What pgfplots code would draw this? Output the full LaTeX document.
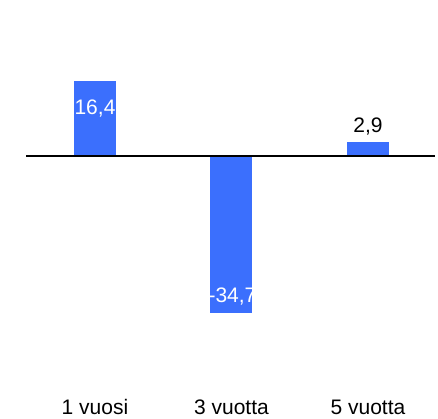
\documentclass[border=0pt]{standalone}
\usepackage{pgfplots}
\pgfplotsset{compat=1.18}
\usepackage{fontspec}
\setmainfont{Liberation Sans}
\definecolor{barblue}{HTML}{3B6FFD}

\begin{document}
\begin{tikzpicture}
\begin{axis}[
    scale only axis,
    width=438pt, height=419pt,
    xmin=-0.696, xmax=2.513,
    ymin=-57.9, ymax=34.18,
    axis line style={draw=none},
    tick style={draw=none},
    ytick=\empty,
    xtick={0,1,2},
    xticklabels={1 vuosi,3 vuotta,5 vuotta},
    xticklabel style={anchor=base, yshift=4.5pt, font=\fontsize{21}{25}\selectfont},
    clip=false,
]
% 1 vuosi
\addplot[ybar, bar shift=0pt, bar width=42pt, fill=barblue, draw=none,
    nodes near coords={16,4},
    every node near coord/.append style={anchor=base, yshift=-33.5pt, inner sep=0pt,
        text=white, font=\fontsize{21}{25}\selectfont}]
    coordinates {(0,16.4)};
% 3 vuotta
\addplot[ybar, bar shift=0pt, bar width=42pt, fill=barblue, draw=none,
    nodes near coords={-34,7},
    every node near coord/.append style={anchor=base, yshift=11pt, xshift=1pt, inner sep=0pt,
        text=white, font=\fontsize{21}{25}\selectfont}]
    coordinates {(1,-34.7)};
% 5 vuotta
\addplot[ybar, bar shift=0pt, bar width=42pt, fill=barblue, draw=none,
    nodes near coords={2,9},
    every node near coord/.append style={anchor=base, yshift=10pt, inner sep=0pt,
        text=black, font=\fontsize{21}{25}\selectfont}]
    coordinates {(2,2.9)};
% zero line
\addplot[sharp plot, black, line width=2pt, mark=none] coordinates {(-0.505,0) (2.49,0)};
\end{axis}
\pgfresetboundingbox
\useasboundingbox (0,0) rectangle (438pt,419pt);
\end{tikzpicture}
\end{document}
